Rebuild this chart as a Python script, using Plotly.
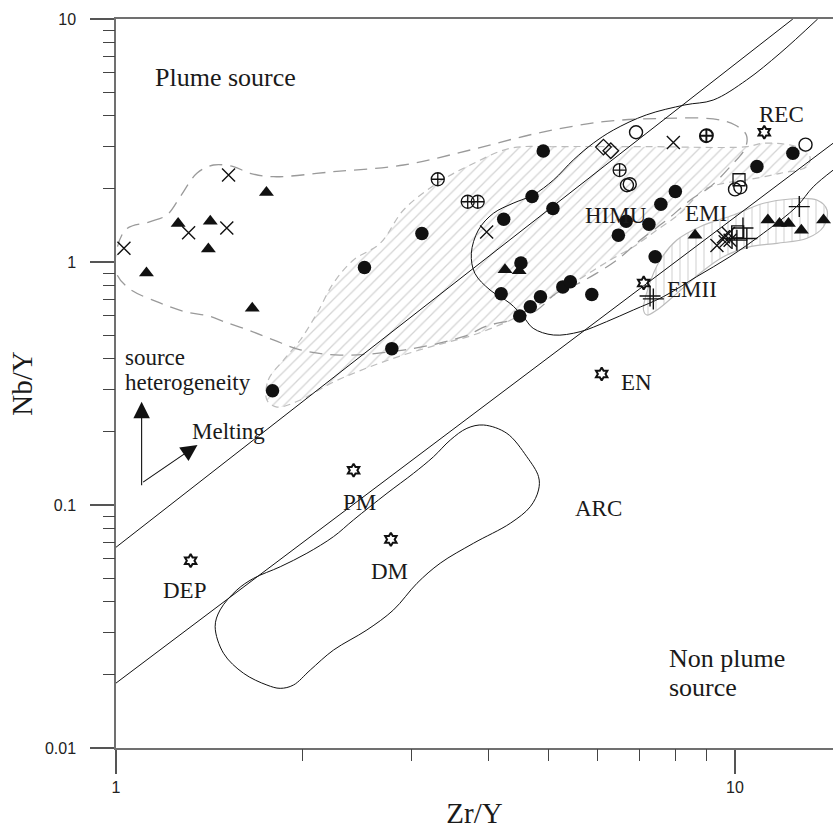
import numpy as np
import plotly.graph_objects as go

# ---------------- data (Zr/Y, Nb/Y) ----------------
x_cross = [1.03, 1.31, 1.51, 1.52, 3.97, 7.95, 9.35, 9.58, 9.76, 9.82, 9.64]
y_cross = [1.14, 1.32, 1.38, 2.28, 1.33, 3.10, 1.17, 1.27, 1.31, 1.23, 1.21]

x_tri = [1.12, 1.26, 1.42, 1.41, 1.75, 1.66, 4.25, 4.48, 8.62, 11.3, 11.8, 12.2, 12.8, 13.9]
y_tri = [0.90, 1.44, 1.47, 1.13, 1.93, 0.645, 0.93, 0.92, 1.29, 1.49, 1.44, 1.44, 1.35, 1.49]

x_dot = [1.79, 2.52, 3.12, 2.79, 4.90, 4.70, 5.08, 4.23, 4.51, 4.19, 4.85, 4.67,
         4.49, 5.27, 5.42, 5.87, 6.48, 6.67, 7.26, 7.59, 8.01, 7.43, 10.85, 12.4]
y_dot = [0.295, 0.95, 1.31, 0.44, 2.86, 1.86, 1.66, 1.50, 0.99, 0.74, 0.72, 0.655,
         0.60, 0.79, 0.83, 0.735, 1.29, 1.47, 1.43, 1.73, 1.95, 1.05, 2.47, 2.80]

x_ocirc = [6.92, 6.69, 6.76, 13.0, 10.0, 10.2]
y_ocirc = [3.42, 2.07, 2.09, 3.04, 1.99, 2.03]

x_square = [10.15, 10.1]
y_square = [2.18, 1.33]

x_ocross = [3.31, 3.70, 3.84, 6.51, 8.98, 9.00]
y_ocross = [2.19, 1.77, 1.77, 2.39, 3.30, 3.32]

x_diam = [6.13, 6.30]
y_diam = [2.97, 2.87]

x_plus = [10.3, 10.45, 10.07, 9.89, 12.7, 7.29, 7.38]
y_plus = [1.38, 1.25, 1.23, 1.25, 1.69, 0.725, 0.705]

# reference reservoirs (stars)
ref_names = ["REC", "EMII*", "EN", "PM", "DM", "DEP"]
x_star = [11.15, 7.12, 6.09, 2.42, 2.78, 1.32]
y_star = [3.42, 0.82, 0.346, 0.139, 0.0722, 0.059]

# straight reference lines (end points)
upper_line_x = [1.0, 12.4]
upper_line_y = [0.067, 10.0]
lower_line_x = [1.0, 14.4]
lower_line_y = [0.0185, 3.08]

# HIMU field boundary (open curve)
himu_x = [13.6, 11.82, 10.44, 9.22, 8.30, 7.19, 6.36, 5.90, 5.48, 5.09, 4.72, 4.38, 4.07,
          3.85, 3.75, 3.80, 4.02, 4.33, 4.55, 4.72, 5.09, 5.62, 6.20, 6.85, 7.66, 8.67,
          9.81, 11.11, 12.57, 13.38, 14.41]
himu_y = [10.0, 7.225, 5.61, 4.64, 4.43, 4.03, 3.49, 3.08, 2.63, 2.175, 1.887, 1.745, 1.586,
          1.354, 1.086, 0.898, 0.767, 0.676, 0.5955, 0.5335, 0.5006, 0.5165, 0.568, 0.6345,
          0.72, 0.87, 1.051, 1.313, 1.689, 2.04, 2.39]

# ARC field (closed)
arc_x = [3.78, 3.34, 3.063, 2.807, 2.543, 2.246, 2.06, 1.935, 1.842, 1.753, 1.607, 1.492,
         1.446, 1.473, 1.568, 1.668, 1.842, 2.034, 2.246, 2.419, 2.74, 3.024, 3.258, 3.467,
         3.689, 3.924, 4.28, 4.61, 4.815, 4.815, 4.67, 4.335, 3.78]
arc_y = [0.0696, 0.0576, 0.0476, 0.037, 0.0306, 0.0253, 0.02094, 0.01816, 0.0176, 0.01816,
         0.0203, 0.02453, 0.03156, 0.037, 0.0447, 0.0499, 0.0557, 0.0633, 0.0741, 0.0868,
         0.1117, 0.135, 0.158, 0.185, 0.2068, 0.2134, 0.1972, 0.158, 0.1308, 0.1153, 0.0984,
         0.0841, 0.0696]

# large dashed field (plume, unfilled)
big_x = [1.035, 1.136, 1.208, 1.27, 1.351, 1.437, 1.548, 1.647, 1.797, 2.246, 2.914, 3.735,
         4.786, 6.132, 7.57, 9.22, 10.0, 10.43, 10.39, 9.82, 9.12, 8.47, 7.76, 7.03, 6.45,
         5.98, 5.55, 5.15, 4.79, 4.45, 3.97, 3.65, 2.93, 2.30, 1.985, 1.80, 1.635, 1.49,
         1.41, 1.30, 1.175, 1.045, 0.998, 1.035]
big_y = [1.354, 1.465, 1.561, 1.857, 2.317, 2.507, 2.467, 2.317, 2.244, 2.353, 2.507, 2.89,
         3.386, 3.779, 3.896, 3.878, 3.663, 3.332, 2.945, 2.467, 2.04, 1.80, 1.489, 1.232,
         1.02, 0.90, 0.81, 0.745, 0.635, 0.585, 0.545, 0.494, 0.435, 0.414, 0.435, 0.477,
         0.525, 0.57, 0.60, 0.622, 0.68, 0.785, 0.93, 1.354]

# hatched field (diagonal hatch)
hat_x = [1.753, 1.762, 1.865, 1.985, 2.112, 2.246, 2.419, 2.672, 2.914, 3.3, 3.735, 4.335,
         5.14, 7.295, 10.43, 11.11, 12.57, 13.21, 13.05, 11.83, 10.44, 9.58, 8.89, 8.155,
         7.48, 6.855, 6.286, 5.69, 5.157, 4.67, 4.227, 3.735, 3.3, 2.878, 2.543, 2.246,
         1.985, 1.82, 1.753]
hat_y = [0.2704, 0.327, 0.395, 0.4775, 0.615, 0.8196, 1.019, 1.194, 1.637, 2.108, 2.507,
         2.937, 2.982, 2.982, 2.982, 3.08, 2.982, 2.713, 2.467, 2.317, 2.175, 2.108, 1.978,
         1.586, 1.354, 1.156, 1.019, 0.87, 0.743, 0.6345, 0.5594, 0.496, 0.4555, 0.4104,
         0.3663, 0.3208, 0.2704, 0.253, 0.2704]

# EM field (vertical hatch)
em_x = [7.115, 7.25, 7.57, 8.056, 8.78, 9.945, 11.12, 12.28, 13.56, 14.08, 13.9, 13.07,
        11.69, 10.58, 9.58, 8.78, 8.056, 7.48, 7.205, 7.115]
em_y = [0.6345, 0.791, 1.019, 1.232, 1.397, 1.561, 1.745, 1.817, 1.8, 1.637, 1.397, 1.252,
        1.194, 1.156, 1.051, 0.899, 0.743, 0.6345, 0.605, 0.6345]

# text labels: (text, x, y, size, anchor)
labels = [
    ("Plume source", 1.50, 5.77, 26, "center"),
    ("source", 1.028, 0.405, 23, "left"),
    ("heterogeneity", 1.028, 0.319, 23, "left"),
    ("Melting", 1.318, 0.2016, 23, "left"),
    ("PM", 2.47, 0.102, 23, "center"),
    ("DM", 2.77, 0.0535, 23, "center"),
    ("DEP", 1.29, 0.0443, 23, "center"),
    ("ARC", 6.01, 0.0963, 23, "center"),
    ("Non plume", 7.77, 0.02346, 26, "left"),
    ("source", 7.77, 0.01782, 26, "left"),
    ("REC", 11.9, 4.03, 23, "center"),
    ("HIMU", 6.43, 1.56, 23, "center"),
    ("EMI", 8.97, 1.59, 23, "center"),
    ("EMII", 8.53, 0.767, 23, "center"),
    ("EN", 6.93, 0.318, 23, "center"),
]

# arrows: (tip_x, tip_y, tail_x, tail_y)
arrows = [
    (1.10, 0.266, 1.10, 0.119),
    (1.354, 0.1766, 1.10, 0.123),
]

x_tickvals = [1, 10]
x_ticktext = ["1", "10"]
y_tickvals = [0.01, 0.1, 1, 10]
y_ticktext = ["0.01", "0.1", "1", "10"]
x_minor = [2, 3, 4, 5, 6, 7, 8, 9]
y_minor = [0.02, 0.03, 0.04, 0.05, 0.06, 0.07, 0.08, 0.09,
           0.2, 0.3, 0.4, 0.5, 0.6, 0.7, 0.8, 0.9,
           2, 3, 4, 5, 6, 7, 8, 9]

# ---------------- figure ----------------
fig = go.Figure()

fig.add_trace(go.Scatter(
    x=hat_x, y=hat_y, mode="lines", fill="toself", line_shape="spline",
    line=dict(color="#bcbcbc", width=1.2, dash="7px,5px"),
    fillcolor="rgba(255,255,255,0)",
    fillpattern=dict(shape="/", fgcolor="#a9a9a9", bgcolor="rgba(255,255,255,0)",
                     size=8, solidity=0.16),
    hoverinfo="skip"))

fig.add_trace(go.Scatter(
    x=em_x, y=em_y, mode="lines", fill="toself", line_shape="spline",
    line=dict(color="#bcbcbc", width=1.2),
    fillcolor="rgba(255,255,255,0)",
    fillpattern=dict(shape="|", fgcolor="#b4b4b4", bgcolor="rgba(255,255,255,0)",
                     size=8, solidity=0.16),
    hoverinfo="skip"))

fig.add_trace(go.Scatter(
    x=big_x, y=big_y, mode="lines", line_shape="spline",
    line=dict(color="#9a9a9a", width=1.3, dash="13px,8px"), hoverinfo="skip"))

fig.add_trace(go.Scatter(
    x=arc_x, y=arc_y, mode="lines", line_shape="spline",
    line=dict(color="#111", width=1), hoverinfo="skip"))

fig.add_trace(go.Scatter(
    x=himu_x, y=himu_y, mode="lines", line_shape="spline",
    line=dict(color="#111", width=1), hoverinfo="skip"))

fig.add_trace(go.Scatter(
    x=upper_line_x, y=upper_line_y, mode="lines",
    line=dict(color="#111", width=1), hoverinfo="skip"))
fig.add_trace(go.Scatter(
    x=lower_line_x, y=lower_line_y, mode="lines",
    line=dict(color="#111", width=1), hoverinfo="skip"))

# invisible trace bound to the overlay axes that carry the minor ticks
fig.add_trace(go.Scatter(
    x=upper_line_x, y=upper_line_y, xaxis="x2", yaxis="y2", mode="lines",
    line=dict(width=0), opacity=0, hoverinfo="skip"))

def add_markers(xs, ys, symbol, size, lw=1.3, color="#111"):
    fig.add_trace(go.Scatter(
        x=xs, y=ys, mode="markers",
        marker=dict(symbol=symbol, size=size, color=color,
                    line=dict(color=color, width=lw)),
        hoverinfo="skip"))

add_markers(x_dot, y_dot, "circle", 13.5, 0)
add_markers(x_tri, y_tri, "triangle-up", 13, 0)
add_markers(x_cross, y_cross, "x-thin-open", 13, 1.4)
add_markers(x_ocirc, y_ocirc, "circle-open", 13, 1.4)
add_markers(x_square, y_square, "square-open", 12, 1.3)
add_markers(x_ocross, y_ocross, "circle-cross-open", 13, 1.3)
add_markers(x_diam, y_diam, "diamond-open", 12, 1.3)
add_markers(x_plus, y_plus, "cross-thin-open", 15, 1.4)
add_markers(x_star, y_star, "hexagram-open", 10, 2.0)

for text, xv, yv, sz, anc in labels:
    fig.add_annotation(
        x=np.log10(xv), y=np.log10(yv), xref="x", yref="y", text=text,
        showarrow=False, xanchor=anc, yanchor="middle",
        font=dict(family="Liberation Serif, Times New Roman, serif", size=sz, color="#1a1a1a"))

for tx, ty, sx, sy in arrows:
    fig.add_annotation(
        x=np.log10(tx), y=np.log10(ty), ax=np.log10(sx), ay=np.log10(sy),
        xref="x", yref="y", axref="x", ayref="y", text="",
        showarrow=True, arrowhead=2, arrowsize=3.0, arrowwidth=1.1, arrowcolor="#111")

tick_font = dict(family="Arial, Liberation Sans, sans-serif", size=16, color="#222")
title_font = dict(family="Liberation Serif, Times New Roman, serif", size=29, color="#1a1a1a")
x_range = [0, 1.1583]
y_range = [-2, 1]

fig.update_layout(
    xaxis=dict(
        type="log", range=x_range, showgrid=False, zeroline=False, showline=True,
        linecolor="#707070", linewidth=1.5, mirror=True,
        ticks="outside", ticklen=24, tickwidth=1.5, tickcolor="#555",
        tickmode="array", tickvals=x_tickvals, ticktext=x_ticktext,
        tickfont=tick_font,
        title=dict(text="Zr/Y", standoff=8, font=title_font)),
    yaxis=dict(
        type="log", range=y_range, showgrid=False, zeroline=False, showline=True,
        linecolor="#707070", linewidth=1.5,
        ticks="outside", ticklen=24, tickwidth=1.5, tickcolor="#555",
        tickmode="array", tickvals=y_tickvals, ticktext=y_ticktext,
        tickfont=tick_font, ticklabelstandoff=11,
        title=dict(text="Nb/Y", standoff=4, font=title_font)),
    xaxis2=dict(
        type="log", range=x_range, overlaying="x", anchor="y", side="bottom",
        showgrid=False, zeroline=False, showline=False, showticklabels=False,
        ticks="outside", ticklen=12, tickwidth=1.2, tickcolor="#444",
        tickmode="array", tickvals=x_minor),
    yaxis2=dict(
        type="log", range=y_range, overlaying="y", anchor="x", side="left",
        showgrid=False, zeroline=False, showline=False, showticklabels=False,
        ticks="outside", ticklen=12, tickwidth=1.2, tickcolor="#444",
        tickmode="array", tickvals=y_minor),
    width=833, height=832, showlegend=False,
    margin=dict(l=116, r=0, t=19, b=84, autoexpand=False),
    paper_bgcolor="white", plot_bgcolor="white",
)

fig.write_html("out.html")
